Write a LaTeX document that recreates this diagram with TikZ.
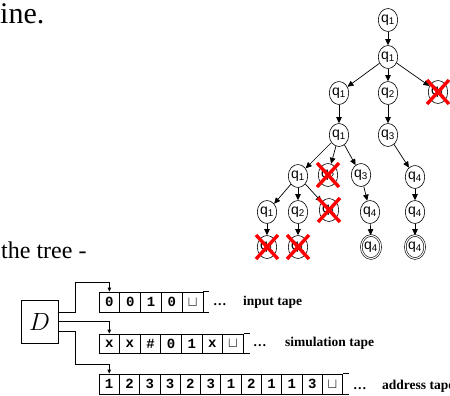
\documentclass[tikz,border=0pt]{standalone}
\usepackage{fontspec}
\setmainfont{Liberation Serif}
\setsansfont{Liberation Sans}
\setmonofont{Liberation Mono}
\usepackage{tikz}
\usetikzlibrary{arrows.meta,shapes.geometric}
\definecolor{cutred}{HTML}{FF0000}

\newcommand{\qq}[1]{q\textsubscript{#1}}

\begin{document}
\begin{tikzpicture}[
        x=1pt, y=-1pt,
        conf/.style={
            draw,
            ellipse,
            inner sep=0pt,
            minimum width=19pt,
            minimum height=23pt,
            line width=0.6pt,
            font=\sffamily\fontsize{14}{14}\selectfont
        },
        acc/.style={conf, double, double distance=1.1pt},
        move/.style={-{Triangle[length=6pt,width=5.5pt]},line width=0.7pt},
        xmark/.style={cutred,line width=3.4pt},
        cell/.style={
            draw,
            line width=0.8pt,
            inner sep=0pt,
            minimum height=20pt,
            font=\ttfamily\bfseries\fontsize{14}{14}\selectfont
        },
        feed/.style={-{Triangle[length=4pt,width=3.5pt]},line width=0.8pt},
        tapename/.style={anchor=base west,inner sep=0pt,font=\bfseries\fontsize{13.5}{13.5}\selectfont}
    ]
        \useasboundingbox (0,0) rectangle (450,396);

        % slide text
        \node[anchor=base west,inner sep=0pt,font=\fontsize{30}{30}\selectfont] (title) at (0,24) {ine.};
        \node[anchor=base west,inner sep=0pt,font=\fontsize{24}{24}\selectfont] (tree) at (1,258) {the tree -};

        % computation tree
        \node[conf] (t0) at (388,20) {\qq1};
        \node[conf] (t1) at (388,57) {\qq1};
        \node[conf] (t2a) at (339,93) {\qq1};
        \node[conf] (t2b) at (388,93) {\qq2};
        \node[conf] (t2c) at (438,92) {\qq1};
        \node[conf] (t3a) at (339,135) {\qq1};
        \node[conf] (t3b) at (388,135) {\qq3};
        \node[conf] (t4a) at (298,176) {\qq1};
        \node[conf] (t4b) at (328,175) {\qq2};
        \node[conf] (t4c) at (361,175) {\qq3};
        \node[conf] (t4d) at (415,177) {\qq4};
        \node[conf] (t5a) at (267,212) {\qq1};
        \node[conf] (t5b) at (298,212) {\qq2};
        \node[conf] (t5c) at (329,210) {\qq1};
        \node[conf] (t5d) at (370,212) {\qq4};
        \node[conf] (t5e) at (415,212) {\qq4};
        \node[conf] (t6a) at (267,247) {\qq1};
        \node[conf] (t6b) at (298,247) {\qq1};
        \node[acc] (t6c) at (371,247) {\qq4};
        \node[acc] (t6d) at (415,247) {\qq4};

        \draw[move] (t0) -- (t1);
        \draw[move] (t1) -- (t2a);
        \draw[move] (t1) -- (t2b);
        \draw[move] (t1) -- (t2c);
        \draw[move] (t2a) -- (t3a);
        \draw[move] (t2b) -- (t3b);
        \draw[move] (t3a) -- (t4a);
        \draw[move] (t3a) -- (t4b);
        \draw[move] (t3a) -- (t4c);
        \draw[move] (t3b) -- (t4d);
        \draw[move] (t4a) -- (t5a);
        \draw[move] (t4a) -- (t5b);
        \draw[move] (t4a) -- (t5c);
        \draw[move] (t4c) -- (t5d);
        \draw[move] (t4d) -- (t5e);
        \draw[move] (t5a) -- (t6a);
        \draw[move] (t5b) -- (t6b);
        \draw[move] (t5d) -- (t6c);
        \draw[move] (t5e) -- (t6d);

        % rejected branches
        \foreach \n in {t2c,t4b,t5c,t6a,t6b}
            \draw[xmark] ([shift={(-11,-12)}]\n.center) -- ([shift={(11,12)}]\n.center)
                         ([shift={(-11,12)}]\n.center) -- ([shift={(11,-12)}]\n.center);

        % three-tape machine D
        \node[draw,line width=0.8pt,minimum width=37pt,minimum height=43pt,font=\fontsize{23}{23}\selectfont] (dbox) at (39.5,321.5) {$D$};

        \foreach \s [count=\i from 0] in {0,0,1,0,$\sqcup$}
            \node[cell,minimum width=20.8pt] (in\i) at (109.4+20.8*\i,302) {\s};
        \foreach \s [count=\i from 0] in {x,x,\#,0,1,x,$\sqcup$}
            \node[cell,minimum width=20.6pt,minimum height=19pt] (sim\i) at (109.3+20.6*\i,343.5) {\s};
        \foreach \s [count=\i from 0] in {1,2,3,3,2,3,1,2,1,1,3,$\sqcup$}
            \node[cell,minimum width=20.3pt] (adr\i) at (109.2+20.3*\i,384) {\s};

        % open tape ends
        \draw[line width=0.8pt] (in4.north east) -- ++(6,0) (in4.south east) -- ++(6,0);
        \draw[line width=0.8pt] (sim6.north east) -- ++(6,0) (sim6.south east) -- ++(6,0);
        \draw[line width=0.8pt] (adr11.north east) -- ++(6,0) (adr11.south east) -- ++(6,0);

        \node[tapename] (indots) at (213,305) {\dots};
        \node[tapename] (simdots) at (253,346) {\dots};
        \node[tapename] (adrdots) at (353,389) {\dots};
        \node[tapename] (inlabel) at (243,305) {input tape};
        \node[tapename] (simlabel) at (285,346) {simulation tape};
        \node[tapename] (adrlabel) at (382,389) {address tape};

        \draw[feed] ([yshift=9.5pt]dbox.east) -| (75,282) -| (in0.north);
        \draw[feed] (dbox.east) -| (sim0.north);
        \draw[feed] ([yshift=-9.5pt]dbox.east) -| (75,364) -| (adr0.north);
    \end{tikzpicture}
\end{document}
